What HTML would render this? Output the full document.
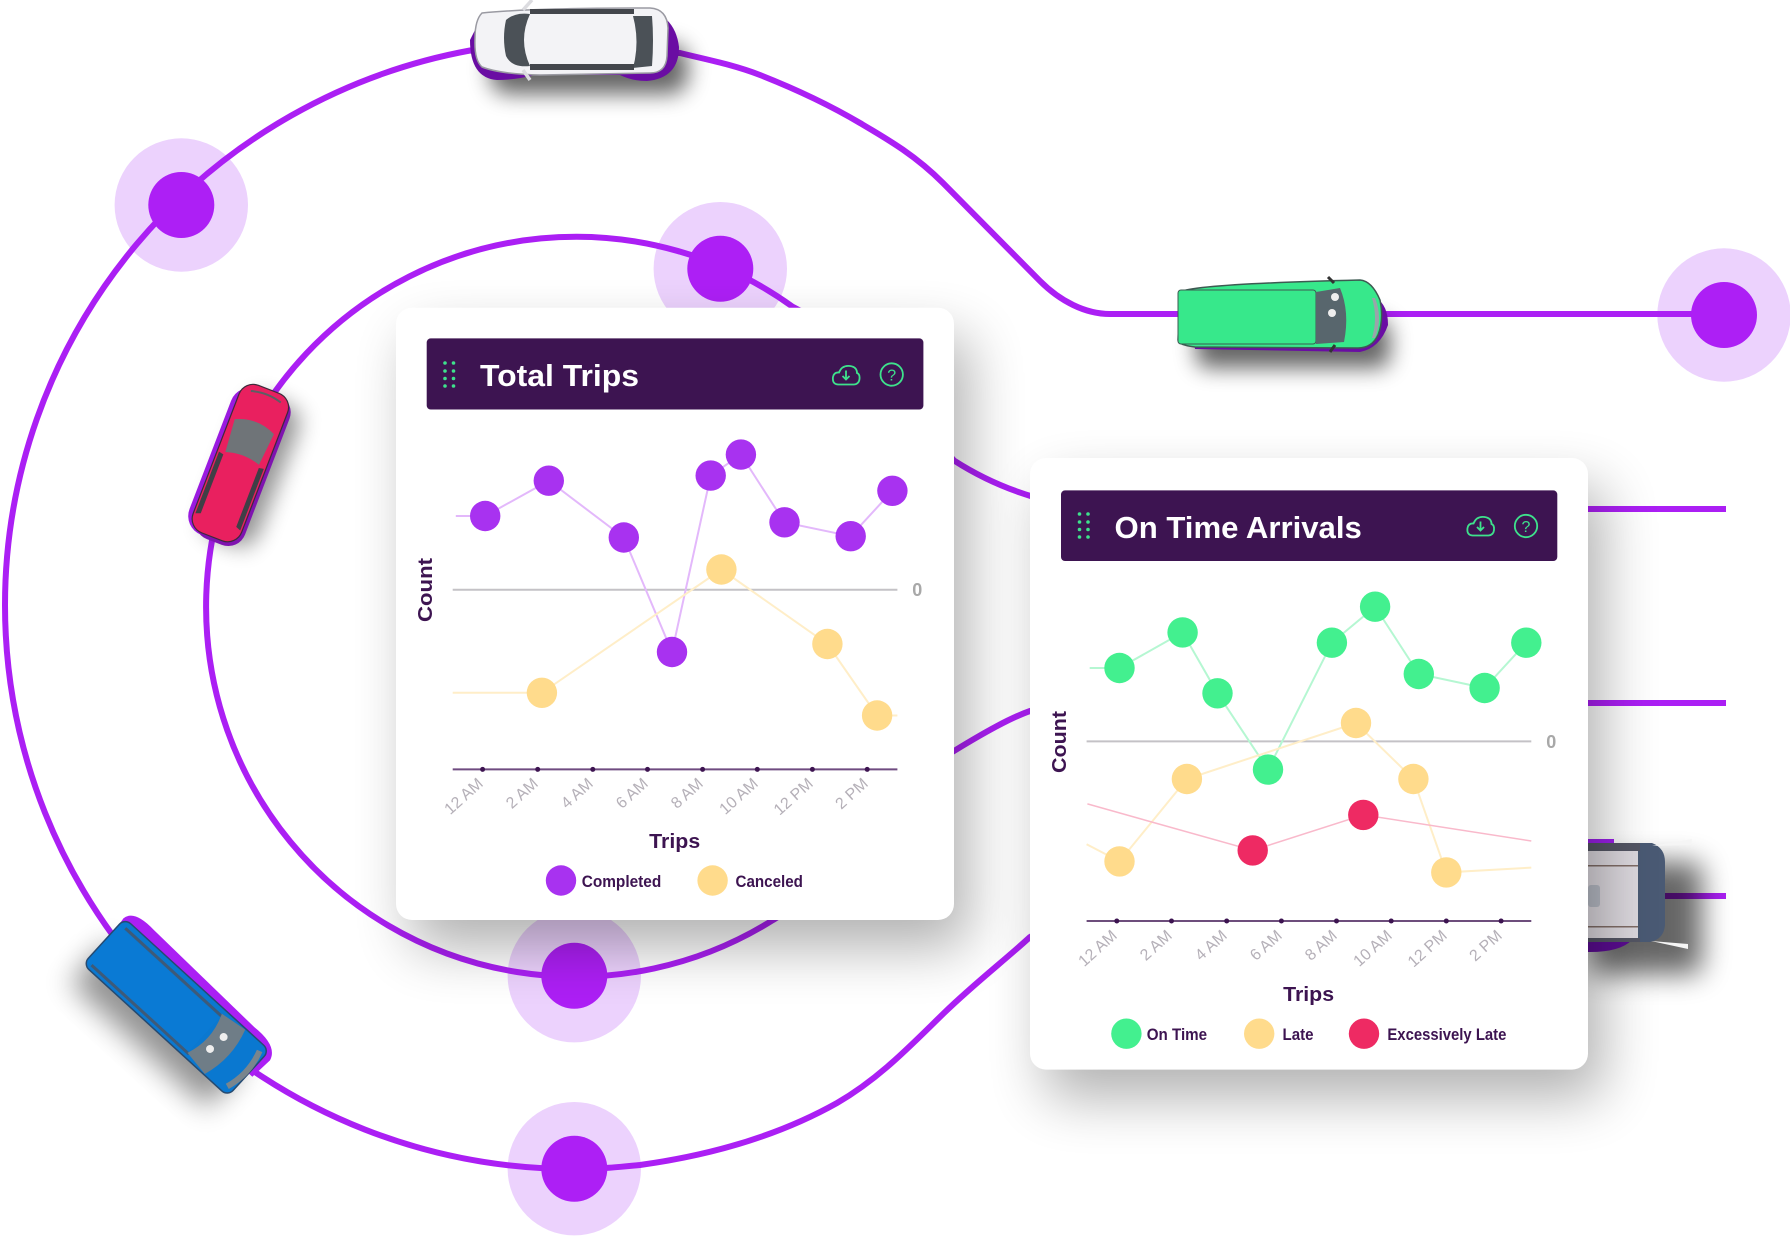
<!DOCTYPE html>
<html><head><meta charset="utf-8"><style>
html,body{margin:0;padding:0;background:#fff}
svg{display:block}
text{font-family:"Liberation Sans",sans-serif}
.t{font-weight:700;font-size:31px;fill:#fff}
.ax{font-weight:700;font-size:20px;fill:#3d1451}
.lg{font-size:17px;font-weight:700;fill:#3d1451}
.tk{font-size:16px;fill:#b5b0b8}
.z{font-size:18px;font-weight:700;fill:#a8a8a8}
.n{fill:none;stroke:#ab1ff4;stroke-width:6}
</style></head><body>
<svg width="1790" height="1236" viewBox="0 0 1790 1236" xmlns="http://www.w3.org/2000/svg">
<defs>
<filter id="b1" x="-30%" y="-30%" width="160%" height="160%"><feGaussianBlur stdDeviation="28"/></filter>
<filter id="b2" x="-50%" y="-100%" width="200%" height="300%"><feGaussianBlur stdDeviation="11"/></filter>
<filter id="b3" x="-50%" y="-50%" width="200%" height="200%"><feGaussianBlur stdDeviation="14"/></filter>
</defs>
<rect width="1790" height="1236" fill="#fff"/>

<g fill="#ecd2fd">
<circle cx="181.3" cy="205" r="66.7"/><circle cx="720.3" cy="268.7" r="66.7"/><circle cx="1724" cy="315" r="66.7"/><circle cx="574.3" cy="975.7" r="66.7"/><circle cx="574.3" cy="1168.7" r="66.7"/>
</g>
<g>
<path class="n" d="M1726,314 L1110,314 C1085,314 1060,301 1040,281 L943,183 C915,155 888,139.5 860,123 C827,103.5 793,88 760,75 C733,64.5 706,59.5 680,53 L470,50.5 A569,564 0 0 0 5,605 A569,564 0 0 0 574,1169 C600,1169 620,1167 640,1165 C712,1155 780,1135 837,1103 C880,1078 910,1046 944,1013 C975,983 1005,960 1030,937 L1100,896 L1726,896"/>
<path class="n" d="M1726,509 L1100,509 C1050,505 1000,490 954,460.5 C900,400 850,335 793,307 A370,370 0 1 0 773,920 C840,880 900,780 954,751 C985,732 1010,718 1030,711 L1100,703 L1726,703"/>
</g>
<g fill="#ad1ff5">
<circle cx="181.3" cy="205" r="33"/><circle cx="720.3" cy="268.7" r="33"/><circle cx="1724" cy="315" r="33"/><circle cx="574.3" cy="975.7" r="33"/><circle cx="574.3" cy="1168.7" r="33"/>
</g>

<!-- white car top -->
<g>
<rect x="490" y="44" width="198" height="50" rx="18" fill="#000" opacity=".6" filter="url(#b2)"/>
<path d="M470,40 Q470,78 497,80 Q515,80 535,75 L620,75 Q632,81 647,81 Q679,78 679,47 Q677,30 667,20 L480,20 Z" fill="#6a0da3"/>
<path d="M482,13 Q530,8 650,8 Q667,9 668,28 L667,56 Q666,73 650,73 L540,75 Q500,74 482,67 Q474,60 475,38 Q475,20 482,13 Z" fill="#f3f3f6" stroke="#9a9aa2" stroke-width="1.5"/>
<path d="M506,20 Q515,12 530,14 Q518,40 530,66 Q512,68 506,56 Q502,38 506,20 Z" fill="#4b5157"/>
<path d="M633,16 L652,16 Q654,40 652,66 L633,68 Q640,42 633,16 Z" fill="#4b5157"/>
<rect x="530" y="9" width="104" height="5" fill="#43464c"/><rect x="530" y="64" width="104" height="6" fill="#43464c"/>
<path d="M523,10 L532,0 M523,70 L530,80" stroke="#dcdce0" stroke-width="3.5"/>
</g>

<!-- green van -->
<g>
<rect x="1196" y="320" width="194" height="48" rx="12" fill="#000" opacity=".6" filter="url(#b2)"/>
<path d="M1195,349 L1360,352 Q1380,348 1388,325 Q1388,305 1376,298 L1190,300 Z" fill="#6a0da3"/>
<path d="M1180,292 Q1195,284 1360,280 Q1372,281 1380,300 Q1384,320 1378,335 Q1372,348 1358,348 L1195,347 Q1178,345 1178,340 Z" fill="#37e88b" stroke="#3d5a52" stroke-width="1.5"/>
<rect x="1178" y="290" width="138" height="54" rx="3" fill="#37e88b" stroke="#3d5a52" stroke-width="1"/>
<path d="M1316,292 L1340,288 Q1350,312 1344,342 L1316,344 Z" fill="#58666d"/>
<ellipse cx="1335" cy="297" rx="4" ry="4" fill="#eee"/><ellipse cx="1332" cy="313" rx="4" ry="4" fill="#eee"/>
<path d="M1375,298 Q1383,318 1375,338 L1372,338 Q1378,318 1372,298 Z" fill="#9aa4aa"/>
<path d="M1328,277 L1334,283 M1330,352 L1335,345" stroke="#333" stroke-width="3"/>
</g>

<!-- red car -->
<g transform="translate(240,464) rotate(21)">
<rect x="-22" y="-70" width="56" height="150" rx="18" fill="#000" opacity=".42" filter="url(#b2)" transform="translate(8,-2)"/>
<rect x="-31" y="-76" width="52" height="156" rx="20" fill="#9a1ae0"/>
<rect x="-22" y="-78" width="52" height="160" rx="18" fill="#7f13b0"/>
<rect x="-26" y="-80" width="52" height="158" rx="15" fill="#e9205f" stroke="#3d2a3a" stroke-width="1.2"/>
<path d="M-21,-40 Q0,-50 21,-40 L18,-6 Q0,-12 -18,-6 Z" fill="#6f7478"/>
<path d="M-24,-4 L-19,-3 L-19,60 L-24,62 Z M24,-4 L19,-3 L19,60 L24,62 Z" fill="#3f3f46"/>
<path d="M-16,-72 Q0,-77 16,-72" stroke="#5b5f64" stroke-width="2" fill="none"/>
</g>

<!-- blue van -->
<g transform="translate(177,1008) rotate(42.4)">
<rect x="-92" y="-14" width="186" height="56" rx="8" fill="#000" opacity=".42" filter="url(#b3)" transform="translate(-4,12)"/>
<path d="M-100,-30 Q-98,-44 -70,-42 L70,-38 Q100,-40 104,-24 L102,0 L-96,0 Z" fill="#ab1ff4"/>
<rect x="-99" y="-31" width="196" height="62" rx="8" fill="#0a78d0" stroke="#264a70" stroke-width="1.5"/>
<rect x="-98" y="-22" width="136" height="48" fill="#0a7ad4"/>
<path d="M-92,-24 L38,-24 M-92,26 L40,26" stroke="#3e5a78" stroke-width="3" fill="none"/>
<path d="M37,-26 L65,-30 Q75,0 65,30 L38,26 Q48,0 37,-26 Z" fill="#6f7d87"/>
<ellipse cx="54" cy="-10" rx="4" ry="4" fill="#eee"/><ellipse cx="52" cy="8" rx="4" ry="4" fill="#eee"/>
<path d="M90,-24 Q98,0 90,24" stroke="#79858d" stroke-width="6" fill="none"/>
</g>

<!-- white van right -->
<g>
<rect x="1590" y="862" width="112" height="112" rx="10" fill="#000" opacity=".6" filter="url(#b3)"/>
<path d="M1580,930 L1632,940 Q1620,952 1590,952 L1580,952 Z" fill="#5a0d90"/>
<rect x="1580" y="839" width="34" height="8" fill="#9a1fe8"/>
<rect x="1580" y="843" width="70" height="99" fill="#dcd8de"/>
<path d="M1638,843 L1652,843 Q1665,848 1665,862 L1665,925 Q1664,939 1650,942 L1638,942 Z" fill="#4a5a74"/>
<rect x="1580" y="843" width="60" height="8" fill="#545664"/><rect x="1580" y="938" width="60" height="4" fill="#545664"/>
<rect x="1580" y="865" width="58" height="1.5" fill="#7f6c66"/><rect x="1580" y="926" width="58" height="1.5" fill="#7f6c66"/>
<rect x="1588" y="885" width="12" height="22" rx="3" fill="#b8bcc6"/>
<path d="M1652,846 L1692,839 L1691,845 Z M1651,941 L1688,944 L1688,949 Z" fill="#f5f5f5"/>
</g>

<!-- card 1 -->
<rect x="411" y="336" width="558" height="612" rx="16" fill="#000" opacity=".3" filter="url(#b1)"/>
<rect x="396" y="307.7" width="558" height="612.3" rx="16" fill="#fff"/>
<rect x="426.7" y="338.4" width="496.7" height="71.1" rx="4" fill="#3d1451"/>
<g fill="#3ee28c"><circle cx="445" cy="363" r="1.8"/><circle cx="453.5" cy="363" r="1.8"/><circle cx="445" cy="371" r="1.8"/><circle cx="453.5" cy="371" r="1.8"/><circle cx="445" cy="378.5" r="1.8"/><circle cx="453.5" cy="378.5" r="1.8"/><circle cx="445" cy="386" r="1.8"/><circle cx="453.5" cy="386" r="1.8"/></g>
<text x="480" y="386" class="t" textLength="159" lengthAdjust="spacingAndGlyphs">Total Trips</text>
<path d="M838,384.5 Q832,384 833,377 Q834,372 839,372.5 Q842,365 850,366 Q857,367 857,373 Q860,374 859.5,379 Q859,384 854,384.5 Z" fill="none" stroke="#3ee28c" stroke-width="1.8"/>
<path d="M846,370.5 V379 M842.5,376 L846,379.5 L849.5,376" fill="none" stroke="#3ee28c" stroke-width="1.8"/>
<circle cx="891.7" cy="374.5" r="11.2" fill="none" stroke="#3ee28c" stroke-width="1.8"/>
<text x="891.7" y="380.5" text-anchor="middle" style="font-size:16px" fill="#3ee28c">?</text>

<path d="M452.7,589.7 H897.4" stroke="#c4c2c6" stroke-width="2"/>
<text x="917.3" y="596" text-anchor="middle" class="z">0</text>
<polyline points="455.8,516 485.2,516 548.8,480.7 623.8,537.5 672,652 710.7,475.6 740.9,454.6 784.5,522.3 850.7,536.2 892.4,490.8" fill="none" stroke="#e3b8fb" stroke-width="2"/>
<polyline points="452.7,692.8 541.9,692.8 721.4,569.5 827.4,644 877.1,715.5 897.4,715.5" fill="none" stroke="#ffeec8" stroke-width="2"/>
<g fill="#a832f0"><circle cx="485.2" cy="516" r="15.2"/><circle cx="548.8" cy="480.7" r="15.2"/><circle cx="623.8" cy="537.5" r="15.2"/><circle cx="672" cy="652" r="15.2"/><circle cx="710.7" cy="475.6" r="15.2"/><circle cx="740.9" cy="454.6" r="15.2"/><circle cx="784.5" cy="522.3" r="15.2"/><circle cx="850.7" cy="536.2" r="15.2"/><circle cx="892.4" cy="490.8" r="15.2"/><circle cx="561" cy="880.5" r="15.2"/></g>
<g fill="#ffdb8c"><circle cx="541.9" cy="692.8" r="15.2"/><circle cx="721.4" cy="569.5" r="15.2"/><circle cx="827.4" cy="644" r="15.2"/><circle cx="877.1" cy="715.5" r="15.2"/><circle cx="712.6" cy="880.5" r="15.2"/></g>
<path d="M452.7,769.4 H897.4" stroke="#6f4b80" stroke-width="2"/>
<g fill="#3d1451"><circle cx="482.6" cy="769.4" r="2.5"/><circle cx="537.7" cy="769.4" r="2.5"/><circle cx="592.8" cy="769.4" r="2.5"/><circle cx="647.5" cy="769.4" r="2.5"/><circle cx="702.6" cy="769.4" r="2.5"/><circle cx="757.3" cy="769.4" r="2.5"/><circle cx="812.4" cy="769.4" r="2.5"/><circle cx="867.2" cy="769.4" r="2.5"/></g>
<g class="tk" text-anchor="end">
<text transform="translate(484,785) rotate(-42)">12 AM</text>
<text transform="translate(539,785) rotate(-42)">2 AM</text>
<text transform="translate(594,785) rotate(-42)">4 AM</text>
<text transform="translate(649,785) rotate(-42)">6 AM</text>
<text transform="translate(704,785) rotate(-42)">8 AM</text>
<text transform="translate(759,785) rotate(-42)">10 AM</text>
<text transform="translate(814,785) rotate(-42)">12 PM</text>
<text transform="translate(869,785) rotate(-42)">2 PM</text>
</g>
<text transform="translate(432,590) rotate(-90)" text-anchor="middle" class="ax" textLength="64" lengthAdjust="spacingAndGlyphs">Count</text>
<text x="674.7" y="848" text-anchor="middle" class="ax" textLength="51" lengthAdjust="spacingAndGlyphs">Trips</text>
<text x="581.7" y="887" class="lg" textLength="79.6" lengthAdjust="spacingAndGlyphs">Completed</text>
<text x="735.5" y="887" class="lg" textLength="67.4" lengthAdjust="spacingAndGlyphs">Canceled</text>

<!-- card 2 -->
<rect x="1045" y="486" width="558" height="612" rx="16" fill="#000" opacity=".3" filter="url(#b1)"/>
<rect x="1030" y="458" width="558" height="611.6" rx="16" fill="#fff"/>
<rect x="1061" y="490.4" width="496.3" height="70.6" rx="4" fill="#3d1451"/>
<g fill="#3ee28c"><circle cx="1079.5" cy="514" r="1.8"/><circle cx="1088" cy="514" r="1.8"/><circle cx="1079.5" cy="522" r="1.8"/><circle cx="1088" cy="522" r="1.8"/><circle cx="1079.5" cy="529.5" r="1.8"/><circle cx="1088" cy="529.5" r="1.8"/><circle cx="1079.5" cy="537" r="1.8"/><circle cx="1088" cy="537" r="1.8"/></g>
<text x="1114.5" y="538" class="t" textLength="247.3" lengthAdjust="spacingAndGlyphs">On Time Arrivals</text>
<path d="M1472.5,535.5 Q1466.5,535 1467.5,528 Q1468.5,523 1473.5,523.5 Q1476.5,516 1484.5,517 Q1491.5,518 1491.5,524 Q1494.5,525 1494,530 Q1493.5,535 1488.5,535.5 Z" fill="none" stroke="#3ee28c" stroke-width="1.8"/>
<path d="M1480.5,521.5 V530 M1477,527 L1480.5,530.5 L1484,527" fill="none" stroke="#3ee28c" stroke-width="1.8"/>
<circle cx="1526" cy="526" r="11.2" fill="none" stroke="#3ee28c" stroke-width="1.8"/>
<text x="1526" y="532" text-anchor="middle" style="font-size:16px" fill="#3ee28c">?</text>

<path d="M1086.6,741.4 H1531.3" stroke="#c4c2c6" stroke-width="2"/>
<text x="1551.2" y="748" text-anchor="middle" class="z">0</text>
<polyline points="1089.7,668 1119.5,668 1182.6,632.4 1217.5,693.3 1268,769.6 1331.9,642.7 1375.1,606.7 1418.8,674 1484.6,688 1526.3,642.7" fill="none" stroke="#b5f7d2" stroke-width="2"/>
<polyline points="1086.6,844.3 1119.5,861.4 1186.9,779 1356,723 1413.4,779 1446.3,872.4 1531.3,867.6" fill="none" stroke="#ffeec8" stroke-width="2"/>
<polyline points="1087.4,803.9 1252.7,850.4 1363.3,814.9 1531.3,841" fill="none" stroke="#f9b9cb" stroke-width="1.5"/>
<g fill="#43f08f"><circle cx="1119.5" cy="668" r="15.2"/><circle cx="1182.6" cy="632.4" r="15.2"/><circle cx="1217.5" cy="693.3" r="15.2"/><circle cx="1268" cy="769.6" r="15.2"/><circle cx="1331.9" cy="642.7" r="15.2"/><circle cx="1375.1" cy="606.7" r="15.2"/><circle cx="1418.8" cy="674" r="15.2"/><circle cx="1484.6" cy="688" r="15.2"/><circle cx="1526.3" cy="642.7" r="15.2"/><circle cx="1126.4" cy="1033.7" r="15.2"/></g>
<g fill="#ffdb8c"><circle cx="1119.5" cy="861.4" r="15.2"/><circle cx="1186.9" cy="779" r="15.2"/><circle cx="1356" cy="723" r="15.2"/><circle cx="1413.4" cy="779" r="15.2"/><circle cx="1446.3" cy="872.4" r="15.2"/><circle cx="1259.2" cy="1033.7" r="15.2"/></g>
<g fill="#ee2a63"><circle cx="1252.7" cy="850.4" r="15.2"/><circle cx="1363.3" cy="814.9" r="15.2"/><circle cx="1364" cy="1033.7" r="15.2"/></g>
<path d="M1086.6,921 H1531.3" stroke="#3d1451" stroke-width="1.5"/>
<g fill="#3d1451"><circle cx="1116.8" cy="921" r="2.5"/><circle cx="1171.5" cy="921" r="2.5"/><circle cx="1226.7" cy="921" r="2.5"/><circle cx="1281.4" cy="921" r="2.5"/><circle cx="1336.5" cy="921" r="2.5"/><circle cx="1391.2" cy="921" r="2.5"/><circle cx="1446.3" cy="921" r="2.5"/><circle cx="1501.1" cy="921" r="2.5"/></g>
<g class="tk" text-anchor="end">
<text transform="translate(1118,937) rotate(-42)">12 AM</text>
<text transform="translate(1173,937) rotate(-42)">2 AM</text>
<text transform="translate(1228,937) rotate(-42)">4 AM</text>
<text transform="translate(1283,937) rotate(-42)">6 AM</text>
<text transform="translate(1338,937) rotate(-42)">8 AM</text>
<text transform="translate(1393,937) rotate(-42)">10 AM</text>
<text transform="translate(1448,937) rotate(-42)">12 PM</text>
<text transform="translate(1503,937) rotate(-42)">2 PM</text>
</g>
<text transform="translate(1066,742) rotate(-90)" text-anchor="middle" class="ax" textLength="62" lengthAdjust="spacingAndGlyphs">Count</text>
<text x="1308.6" y="1001" text-anchor="middle" class="ax" textLength="51" lengthAdjust="spacingAndGlyphs">Trips</text>
<text x="1146.7" y="1040" class="lg" textLength="60.4" lengthAdjust="spacingAndGlyphs">On Time</text>
<text x="1282.5" y="1040" class="lg" textLength="31" lengthAdjust="spacingAndGlyphs">Late</text>
<text x="1387.4" y="1040" class="lg" textLength="119" lengthAdjust="spacingAndGlyphs">Excessively Late</text>
</svg>
</body></html>
